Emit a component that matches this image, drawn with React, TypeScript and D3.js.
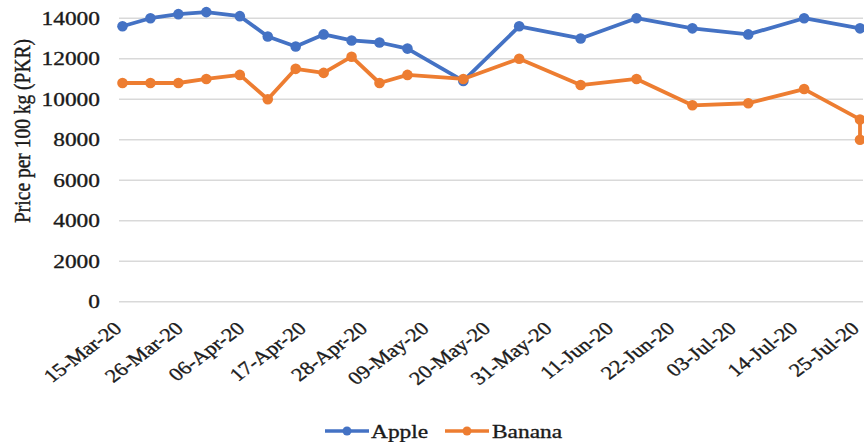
import React from "react";
import * as d3 from "d3";

// Observation dates (daily price readings) and prices per 100 kg in PKR
const dates = [
  "2020-03-15", "2020-03-20", "2020-03-25", "2020-03-30", "2020-04-05",
  "2020-04-10", "2020-04-15", "2020-04-20", "2020-04-25", "2020-04-30",
  "2020-05-05", "2020-05-15", "2020-05-25", "2020-06-05", "2020-06-15",
  "2020-06-25", "2020-07-05", "2020-07-15", "2020-07-25",
];
const applePrices = [
  13600, 14000, 14200, 14300, 14100, 13100, 12600, 13200, 12900, 12800,
  12500, 10900, 13600, 13000, 14000, 13500, 13200, 14000, 13500,
];
// Banana has a second reading on the final date
const bananaDates = [...dates, "2020-07-25"];
const bananaPrices = [
  10800, 10800, 10800, 11000, 11200, 10000, 11500, 11300, 12100, 10800,
  11200, 11000, 12000, 10700, 11000, 9700, 9800, 10500, 9000, 8000,
];

const xTickDates = [
  "2020-03-15", "2020-03-26", "2020-04-06", "2020-04-17", "2020-04-28",
  "2020-05-09", "2020-05-20", "2020-05-31", "2020-06-11", "2020-06-22",
  "2020-07-03", "2020-07-14", "2020-07-25",
];
const yTicks = [0, 2000, 4000, 6000, 8000, 10000, 12000, 14000];

const seriesNames = ["Apple", "Banana"];
const seriesColors = ["#4472C4", "#ED7D31"];

const W = 864;
const H = 442;
const FONT = '"Liberation Serif", "Times New Roman", Times, serif';
const FS = 19.5;
const SX = 1.2; // horizontal text widening

const parse = d3.timeParse("%Y-%m-%d");
const fmt = d3.timeFormat("%d-%b-%y");

export default function App() {
  const x = d3
    .scaleTime()
    .domain([parse(dates[0])!, parse(dates[dates.length - 1])!])
    .range([122.5, 860]);
  const y = d3.scaleLinear().domain([0, 14000]).range([301.7, 18.2]);

  const series = [
    { name: seriesNames[0], color: seriesColors[0], pts: dates.map((d, i) => [parse(d)!, applePrices[i]] as [Date, number]) },
    { name: seriesNames[1], color: seriesColors[1], pts: bananaDates.map((d, i) => [parse(d)!, bananaPrices[i]] as [Date, number]) },
  ];

  const line = d3
    .line<[Date, number]>()
    .x((d) => x(d[0]))
    .y((d) => y(d[1]));

  const legendItems = [
    { lx: 325, tx: 371 },
    { lx: 445, tx: 492 },
  ];

  const textStyle = {
    fontFamily: FONT,
    fontSize: FS,
    fill: "#1a1a1a",
    stroke: "#1a1a1a",
    strokeWidth: 0.35,
  } as React.CSSProperties;

  return (
    <svg
      width={W}
      height={H}
      style={{ position: "absolute", left: 0, top: 0, background: "#fff" }}
    >
      <rect width={W} height={H} fill="#fff" />
      {/* horizontal gridlines */}
      {yTicks.map((t) => (
        <line key={t} x1={119} x2={863} y1={y(t)} y2={y(t)} stroke="#d9d9d9" strokeWidth={1.5} />
      ))}
      {/* y tick labels */}
      {yTicks.map((t) => (
        <text
          key={"yl" + t}
          transform={`translate(100,${y(t) + 6.5}) scale(${SX},1)`}
          textAnchor="end"
          style={textStyle}
        >
          {t}
        </text>
      ))}
      {/* y axis title */}
      <text
        transform={`translate(30,131) scale(${SX},1) rotate(-90)`}
        textAnchor="middle"
        style={textStyle}
      >
        Price per 100 kg (PKR)
      </text>
      {/* x tick labels */}
      {xTickDates.map((d) => {
        const dt = parse(d)!;
        return (
          <text
            key={d}
            transform={`translate(${x(dt) + 0.5},330) scale(${SX},1) rotate(-42)`}
            textAnchor="end"
            style={{ ...textStyle, fontSize: 18.5 }}
          >
            {fmt(dt)}
          </text>
        );
      })}
      {/* series lines and markers */}
      {series.map((s) => (
        <g key={s.name}>
          <path d={line(s.pts) || ""} fill="none" stroke={s.color} strokeWidth={3.8} strokeLinejoin="round" />
          {s.pts.map((p, i) => (
            <circle key={i} cx={x(p[0])} cy={y(p[1])} r={5.3} fill={s.color} />
          ))}
        </g>
      ))}
      {/* legend */}
      {series.map((s, i) => (
        <g key={"lg" + s.name}>
          <line x1={legendItems[i].lx} x2={legendItems[i].lx + 44} y1={431} y2={431} stroke={s.color} strokeWidth={3.5} />
          <circle cx={legendItems[i].lx + 22} cy={431} r={4.5} fill={s.color} />
          <text
            transform={`translate(${legendItems[i].tx},437.5) scale(${SX},1)`}
            style={textStyle}
          >
            {s.name}
          </text>
        </g>
      ))}
    </svg>
  );
}
